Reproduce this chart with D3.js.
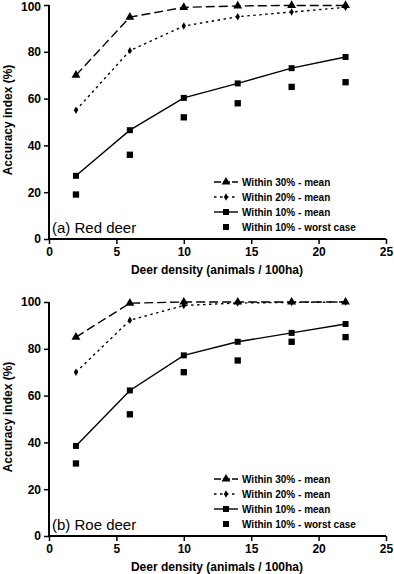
<!DOCTYPE html>
<html>
<head>
<meta charset="utf-8">
<script src="https://cdn.jsdelivr.net/npm/d3@7"></script>
<style>
  body { margin: 0; background: #fff; }
  svg text { font-family: "Liberation Sans", Arial, sans-serif; fill: #000; }
</style>
</head>
<body>
<svg id="chart" width="394" height="574"></svg>
<script>
// data
var density = [2, 6, 10, 14, 18, 22];
var seriesNames = ["Within 30% - mean", "Within 20% - mean", "Within 10% - mean", "Within 10% - worst case"];
var xTicks = [0, 5, 10, 15, 20, 25];
var yTicks = [0, 20, 40, 60, 80, 100];

var redW30 = [70, 94.8, 99, 99.6, 99.8, 99.8];
var redW20 = [55, 80.5, 91, 95, 97, 99];
var redW10 = [27, 46.5, 60.3, 66.5, 73, 77.8];
var redWorst = [19, 36, 52, 58, 65, 67];

var roeW30 = [85, 99.5, 100, 100, 100, 100];
var roeW20 = [70, 92.2, 98.5, 99.6, 99.8, 100];
var roeW10 = [38.5, 62.2, 77.2, 83, 86.8, 90.6];
var roeWorst = [31, 52, 70, 75, 83, 85];

var svg = d3.select("#chart");

function drawPanel(top, label, s30, s20, s10, sWorst) {
  var x = d3.scaleLinear().domain([0, 25]).range([49, 386]);
  var y = d3.scaleLinear().domain([0, 100]).range([top + 234, top]);
  var g = svg.append("g");

  // axes
  var xAxis = d3.axisBottom(x).tickValues(xTicks).tickSize(5).tickPadding(3);
  var yAxis = d3.axisLeft(y).tickValues(yTicks).tickSize(5).tickPadding(3);
  var gx = g.append("g").attr("transform", "translate(0," + (top + 234) + ")").call(xAxis);
  var gy = g.append("g").attr("transform", "translate(49,0)").call(yAxis);
  [gx, gy].forEach(function(a){
    a.select(".domain").attr("stroke", "#000").attr("stroke-width", 2);
    a.selectAll(".tick line").attr("stroke", "#000").attr("stroke-width", 1.5);
    a.selectAll(".tick text").style("font-size", "12px").style("font-weight", "bold")
      .style("font-family", "'Liberation Sans', Arial, sans-serif");
  });
  gx.select(".domain").attr("d", "M49,0H386");
  gy.select(".domain").attr("d", "M0," + (top + 234) + "V" + top);
  // keep the top label inside the page (first panel only)
  if (top < 10) {
    gy.selectAll(".tick text").filter(function(d){ return d == 100; }).attr("dy", "0.45em");
  }

  // titles
  g.append("text")
    .attr("x", 217).attr("y", top + 269)
    .attr("text-anchor", "middle")
    .style("font-size", "12px").style("font-weight", "bold")
    .text("Deer density (animals / 100ha)");
  g.append("text")
    .attr("transform", "translate(12," + (top + 115) + ") rotate(-90)")
    .attr("text-anchor", "middle")
    .style("font-size", "12px").style("font-weight", "bold")
    .text("Accuracy index (%)");

  var line = d3.line().x(function(d, i){ return x(density[i]); }).y(function(d){ return y(d); });

  var styles = [
    {data: s30, dash: "9,4", sym: d3.symbolTriangle, size: 34},
    {data: s20, dash: "2.5,3.5", sym: d3.symbolDiamond, size: 16},
    {data: s10, dash: null, sym: d3.symbolSquare, size: 36}
  ];

  styles.forEach(function(s){
    g.append("path").datum(s.data)
      .attr("d", line)
      .attr("fill", "none")
      .attr("stroke", "#000")
      .attr("stroke-width", 1.4)
      .attr("stroke-dasharray", s.dash);
    g.selectAll(null).data(s.data).enter().append("path")
      .attr("d", d3.symbol().type(s.sym).size(s.size))
      .attr("transform", function(d, i){ return "translate(" + x(density[i]) + "," + y(d) + ")"; })
      .attr("fill", "#000");
  });

  g.selectAll(null).data(sWorst).enter().append("path")
    .attr("d", d3.symbol().type(d3.symbolSquare).size(40))
    .attr("transform", function(d, i){ return "translate(" + x(density[i]) + "," + y(d) + ")"; })
    .attr("fill", "#000");

  // legend
  var lg = g.append("g").attr("transform", "translate(214," + (top + 177) + ")");
  seriesNames.forEach(function(name, i){
    var row = lg.append("g").attr("transform", "translate(0," + (i * 15) + ")");
    if (i < 3) {
      row.append("line").attr("x1", 0).attr("x2", 24).attr("y1", 0).attr("y2", 0)
        .attr("stroke", "#000").attr("stroke-width", 1.4)
        .attr("stroke-dasharray", i == 0 ? "7,2" : i == 1 ? "2.5,3.5" : null);
      row.append("path")
        .attr("d", d3.symbol().type(styles[i].sym).size(styles[i].size))
        .attr("transform", "translate(12,0)").attr("fill", "#000");
    } else {
      row.append("path")
        .attr("d", d3.symbol().type(d3.symbolSquare).size(36))
        .attr("transform", "translate(12,0)").attr("fill", "#000");
    }
    row.append("text").attr("x", 28).attr("y", 4)
      .style("font-size", "10px").style("font-weight", "bold")
      .text(name);
  });

  g.append("text")
    .attr("x", 52).attr("y", top + 228)
    .style("font-size", "15px")
    .text(label);
}

drawPanel(5, "(a) Red deer", redW30, redW20, redW10, redWorst);
drawPanel(302, "(b) Roe deer", roeW30, roeW20, roeW10, roeWorst);
</script>
</body>
</html>
